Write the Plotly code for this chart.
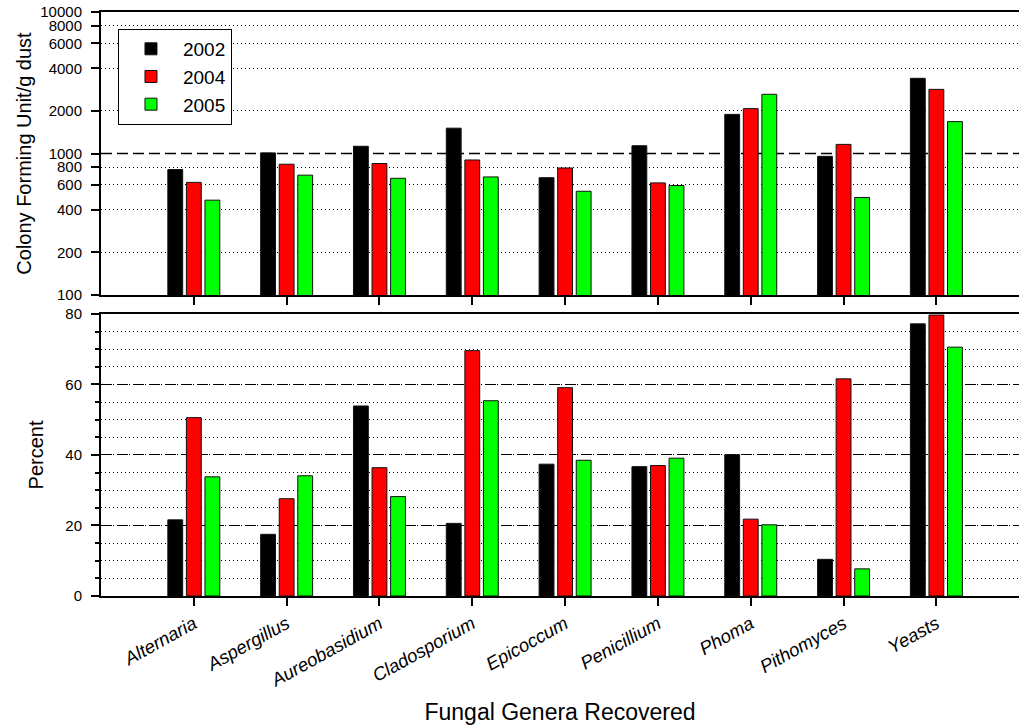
import plotly.graph_objects as go

categories = ["Alternaria", "Aspergillus", "Aureobasidium", "Cladosporium", "Epicoccum",
              "Penicillium", "Phoma", "Pithomyces", "Yeasts"]
years = ["2002", "2004", "2005"]
colors = ["#000000", "#FF0000", "#00FF00"]

cfu_2002 = [770, 1010, 1125, 1510, 675, 1135, 1890, 955, 3400]
cfu_2004 = [625, 840, 850, 900, 790, 620, 2075, 1160, 2840]
cfu_2005 = [468, 703, 668, 683, 541, 594, 2620, 489, 1680]

pct_2002 = [21.6, 17.5, 53.9, 20.6, 37.4, 36.7, 40.1, 10.4, 77.2]
pct_2004 = [50.6, 27.6, 36.4, 69.6, 59.1, 37.0, 21.8, 61.6, 79.7]
pct_2005 = [33.8, 34.1, 28.2, 55.4, 38.5, 39.1, 20.2, 7.7, 70.6]

log_ticks = [100, 200, 400, 600, 800, 1000, 2000, 4000, 6000, 8000, 10000]
log_minor = [200, 400, 600, 800, 2000, 4000, 6000, 8000]
pct_ticks = [0, 20, 40, 60, 80]

FONT = "Arial, Liberation Sans, sans-serif"
DOT = "1px,3px"
DASH = "11px,5px"

fig = go.Figure()
for yr, col, vals in zip(years, colors, [cfu_2002, cfu_2004, cfu_2005]):
    fig.add_trace(go.Bar(x=categories, y=vals, name=yr, marker_color=col,
                         marker_line_color="#111111", marker_line_width=1,
                         xaxis="x", yaxis="y"))
for yr, col, vals in zip(years, colors, [pct_2002, pct_2004, pct_2005]):
    fig.add_trace(go.Bar(x=categories, y=vals, name=yr, marker_color=col,
                         marker_line_color="#111111", marker_line_width=1,
                         xaxis="x2", yaxis="y2", showlegend=False))

axis_common = dict(showline=True, linecolor="black", linewidth=2, ticks="outside",
                   tickcolor="black", tickwidth=1.5, ticklen=8)

fig.update_layout(
    width=1021, height=725,
    margin=dict(l=101, r=2, t=12, b=127),
    plot_bgcolor="white", paper_bgcolor="white",
    font=dict(family=FONT, size=15, color="black"),
    barmode="group", bargap=0.4, bargroupgap=0.2,
    xaxis=dict(domain=[0, 1], anchor="y", range=[-1.0, 8.89], showticklabels=False,
               mirror=True, **axis_common),
    yaxis=dict(domain=[0.5154, 1], anchor="x", type="log", range=[2, 4],
               tickmode="array", tickvals=log_ticks, ticktext=[str(v) for v in log_ticks],
               showgrid=False, zeroline=False, ticklabelstandoff=6,
               tickfont=dict(size=15),
               minor=dict(tickmode="array", tickvals=log_minor, showgrid=True,
                          gridcolor="black", gridwidth=1, griddash=DOT, ticks=""),
               title=dict(text="Colony Forming Unit/g dust", font=dict(size=20), standoff=3),
               **axis_common),
    xaxis2=dict(domain=[0, 1], anchor="y2", range=[-1.0, 8.89], mirror=True,
                tickangle=-29, tickfont=dict(size=18.5, style="italic"),
                title=dict(text="Fungal Genera Recovered", font=dict(size=23), standoff=16),
                **axis_common),
    yaxis2=dict(domain=[0, 0.4829], anchor="x2", range=[0, 80],
                tickmode="array", tickvals=pct_ticks, zeroline=False, ticklabelstandoff=6,
                showgrid=True, gridcolor="black", gridwidth=1.3, griddash=DASH,
                tickfont=dict(size=15),
                minor=dict(dtick=5, showgrid=True, gridcolor="black", gridwidth=1,
                           griddash=DOT, ticks="outside", ticklen=4, tickcolor="black"),
                title=dict(text="Percent", font=dict(size=20), standoff=16),
                **axis_common),
    legend=dict(x=0.0185, y=0.971, xanchor="left", yanchor="top",
                bgcolor="white", bordercolor="black", borderwidth=1,
                font=dict(size=19), traceorder="normal", itemwidth=54,
                tracegroupgap=0),
    shapes=[dict(type="line", xref="x domain", yref="y", x0=0, x1=1, y0=1000, y1=1000,
                 line=dict(color="black", width=1.3, dash=DASH), layer="below")],
)

fig.write_html("out.html", config={"displayModeBar": False},
               post_script="document.body.style.margin='0';")
